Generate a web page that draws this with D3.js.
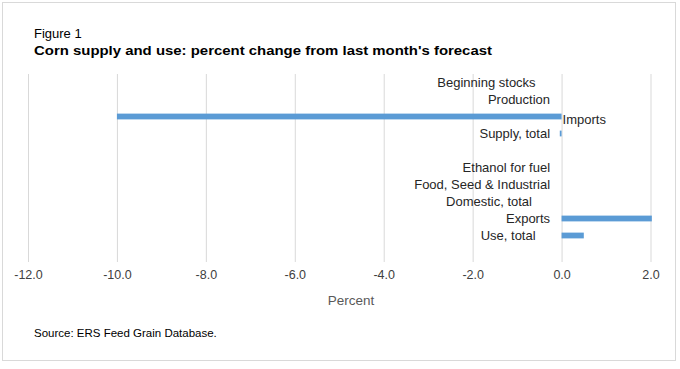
<!DOCTYPE html>
<html>
<head>
<meta charset="utf-8">
<script src="https://cdn.jsdelivr.net/npm/d3@7"></script>
<style>
  body { margin: 0; background: #fff; }
  svg text { font-family: "Liberation Sans", Arial, sans-serif; }
  .cat { white-space: pre; }
</style>
</head>
<body>
<div id="chart"></div>
<script>
// categories (trailing spaces kept as in the source sheet; blank row is the separator)
const categories = [
  'Beginning stocks    ',
  'Production',
  'Imports',
  'Supply, total',
  '',
  'Ethanol for fuel',
  'Food, Seed & Industrial',
  'Domestic, total     ',
  'Exports',
  'Use, total    '
];
const values = [0, 0, -10.0, -0.04, null, 0, 0, 0, 2.03, 0.5];
const xTicks = [-12, -10, -8, -6, -4, -2, 0, 2];

const width = 680, height = 369;
const margin = { top: 74, right: 29.5, bottom: 107, left: 28 };

const svg = d3.select('#chart').append('svg')
  .attr('width', width)
  .attr('height', height);

// outer frame
svg.append('rect')
  .attr('x', 2.5).attr('y', 2.5)
  .attr('width', 673).attr('height', 358)
  .attr('fill', '#fff')
  .attr('stroke', '#d9d9d9');

svg.append('text')
  .attr('x', 34).attr('y', 38)
  .attr('font-size', 13)
  .attr('fill', '#000')
  .text('Figure 1');

svg.append('text')
  .attr('x', 34).attr('y', 55)
  .attr('font-size', 13.5)
  .attr('font-weight', 'bold')
  .attr('fill', '#000')
  .attr('textLength', 458)
  .attr('lengthAdjust', 'spacingAndGlyphs')
  .text("Corn supply and use: percent change from last month's forecast");

const x = d3.scaleLinear()
  .domain([-12, 2])
  .range([margin.left, width - margin.right]);

const y = d3.scaleBand()
  .domain(d3.range(categories.length))
  .range([74, 244])
  .paddingInner(0.66)
  .paddingOuter(0.33);

const gridBottom = 262;
const fmt = d3.formatLocale({ decimal: '.', thousands: ',', grouping: [3], currency: ['$', ''], minus: '-' }).format('.1f');

// vertical gridlines
svg.append('g')
  .selectAll('line')
  .data(xTicks)
  .enter()
  .append('line')
  .attr('x1', d => x(d) + 0.5)
  .attr('x2', d => x(d) + 0.5)
  .attr('y1', margin.top)
  .attr('y2', gridBottom)
  .attr('stroke', '#d9d9d9')
  .attr('stroke-width', 1);

// x axis labels
const xAxis = d3.axisBottom(x).tickValues(xTicks).tickFormat(fmt).tickSize(0).tickPadding(0);
const gx = svg.append('g')
  .attr('transform', `translate(0,${gridBottom + 5})`)
  .call(xAxis);
gx.select('.domain').remove();
gx.selectAll('text')
  .attr('font-size', 12.5)
  .attr('fill', '#404040')
  .attr('dy', '0.95em');

svg.append('text')
  .attr('x', 351).attr('y', 305)
  .attr('text-anchor', 'middle')
  .attr('font-size', 13.5)
  .attr('fill', '#595959')
  .text('Percent');

// bars
const rows = categories.map((c, i) => ({ i, name: c, v: values[i] }));
svg.append('g')
  .selectAll('rect')
  .data(rows.filter(d => d.v !== null && d.v !== 0))
  .enter()
  .append('rect')
  .attr('x', d => x(Math.min(0, d.v)))
  .attr('y', d => y(d.i))
  .attr('width', d => Math.abs(x(d.v) - x(0)))
  .attr('height', y.bandwidth())
  .attr('fill', '#5b9bd5');

// category labels next to the zero line
svg.append('g')
  .selectAll('text')
  .data(rows.filter(d => d.name !== ''))
  .enter()
  .append('text')
  .attr('class', 'cat')
  .attr('x', d => d.v < -1 ? x(0) + 1 : x(0) - 11.5)
  .attr('y', d => y(d.i) + y.bandwidth() / 2 + (d.v < -1 ? 3 : 0))
  .attr('dy', '0.35em')
  .attr('text-anchor', d => d.v < -1 ? 'start' : 'end')
  .attr('font-size', 13)
  .attr('fill', '#262626')
  .text(d => d.name);

svg.append('text')
  .attr('x', 34).attr('y', 337)
  .attr('font-size', 11.5)
  .attr('fill', '#000')
  .text('Source: ERS Feed Grain Database.');
</script>
</body>
</html>
